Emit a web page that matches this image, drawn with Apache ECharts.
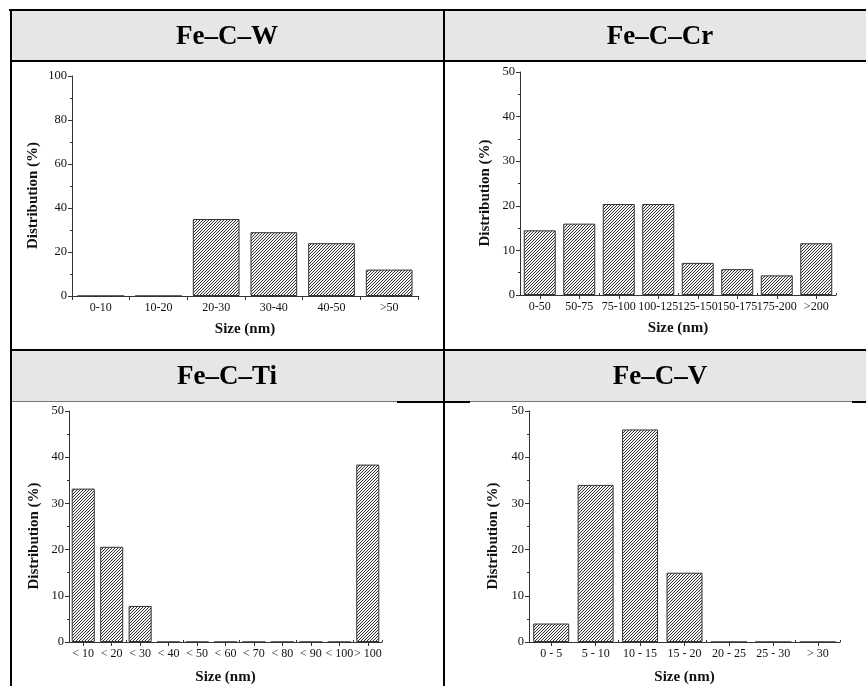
<!DOCTYPE html>
<html>
<head>
<meta charset="utf-8">
<script src="https://cdn.jsdelivr.net/npm/echarts@6/dist/echarts.min.js"></script>
<style>
html,body{margin:0;padding:0;background:#fff;}
#chart{width:866px;height:686px;}
</style>
</head>
<body>
<div id="chart"></div>
<script>
// ---- data ----
const titles = ['Fe–C–W', 'Fe–C–Cr', 'Fe–C–Ti', 'Fe–C–V'];
const catW = ['0-10', '10-20', '20-30', '30-40', '40-50', '>50'];
const valW = [0, 0, 35, 29, 24, 12];
const catCr = ['0-50', '50-75', '75-100', '100-125', '125-150', '150-175', '175-200', '>200'];
const valCr = [14.5, 16, 20.4, 20.4, 7.2, 5.8, 4.4, 11.6];
const catTi = ['< 10', '< 20', '< 30', '< 40', '< 50', '< 60', '< 70', '< 80', '< 90', '< 100', '> 100'];
const valTi = [33.2, 20.6, 7.8, 0, 0, 0, 0, 0, 0, 0, 38.4];
const catV = ['0 - 5', '5 - 10', '10 - 15', '15 - 20', '20 - 25', '25 - 30', '> 30'];
const valV = [4, 34, 46, 15, 0, 0, 0];
const yMax = [100, 50, 50, 50];
const yStep = [20, 10, 10, 10];
const xName = 'Size (nm)';
const yName = 'Distribution (%)';

// ---- hatch pattern ----
function hatch() {
  const n = 3;
  const c = document.createElement('canvas');
  c.width = n; c.height = n;
  const ctx = c.getContext('2d');
  ctx.fillStyle = '#f4f4f4';
  ctx.fillRect(0, 0, n, n);
  ctx.fillStyle = '#363636';
  for (let x = 0; x < n; x++) for (let y = 0; y < n; y++) {
    if ((x + y) % n === n - 1) ctx.fillRect(x, y, 1, 1);
  }
  return c;
}
const pattern = { image: hatch(), repeat: 'repeat' };

const FONT = "'Liberation Serif', 'Times New Roman', serif";
const chart = echarts.init(document.getElementById('chart'), null, { renderer: 'canvas' });

const grids = [
  { left: 72, top: 76, width: 346, height: 220 },
  { left: 520, top: 72, width: 316, height: 223 },
  { left: 69, top: 411, width: 313, height: 232 },
  { left: 529, top: 411, width: 311, height: 232 }
];
const cats = [catW, catCr, catTi, catV];
const vals = [valW, valCr, valTi, valV];
const centerTicks = [false, true, true, true];
const yGap = [31, 27, 27, 28];

const axisLine = { show: true, lineStyle: { color: '#333', width: 1 } };
const xAxes = [], yAxes = [], series = [];
for (let i = 0; i < 4; i++) {
  xAxes.push({
    type: 'category', gridIndex: i, data: cats[i],
    axisLine: axisLine,
    axisTick: { show: true, alignWithLabel: centerTicks[i], length: 4, lineStyle: { color: '#333' } },
    axisLabel: { interval: 0, margin: 6, fontFamily: FONT, fontSize: 12, color: '#111' },
    name: xName, nameLocation: 'middle', nameGap: i < 2 ? 26 : 28,
    nameTextStyle: { fontFamily: FONT, fontWeight: 'bold', fontSize: 15, color: '#111', verticalAlign: 'top' },
    splitLine: { show: false }
  });
  yAxes.push({
    type: 'value', gridIndex: i, min: 0, max: yMax[i], interval: yStep[i],
    axisLine: axisLine,
    axisTick: { show: true, length: 4, lineStyle: { color: '#333' } },
    minorTick: { show: true, splitNumber: 2, length: 2, lineStyle: { color: '#333' } },
    axisLabel: { margin: 5, fontFamily: FONT, fontSize: 12.5, color: '#111' },
    splitLine: { show: false },
    name: yName, nameLocation: 'middle', nameGap: yGap[i], nameRotate: 90,
    nameTextStyle: { fontFamily: FONT, fontWeight: 'bold', fontSize: 15, color: '#111', padding: [0, 19, 0, 0] }
  });
  series.push({
    type: 'bar', xAxisIndex: i, yAxisIndex: i, data: vals[i],
    barCategoryGap: '19%',
    itemStyle: { color: pattern, borderColor: '#333', borderWidth: 1 },
    silent: true
  });
}
// secondary axes showing small boundary ticks for the center-ticked panels
for (let i = 1; i < 4; i++) {
  xAxes.push({
    type: 'category', gridIndex: i, data: cats[i], position: 'bottom',
    axisLine: { show: false },
    axisTick: { show: true, inside: true, length: 2, lineStyle: { color: '#333' } },
    axisLabel: { show: false }, splitLine: { show: false }
  });
}

const graphics = [];
function box(x, y, w, h, fill) {
  graphics.push({ type: 'rect', shape: { x: x, y: y, width: w, height: h }, style: { fill: fill }, silent: true });
}
// header backgrounds
box(10, 10, 856, 51, '#e6e6e6');
box(10, 351, 856, 50, '#e6e6e6');
// borders
box(9, 9, 857, 2, '#000');     // top
box(10, 9, 2, 677, '#000');    // left
box(443, 9, 2, 677, '#000');   // middle
box(10, 60, 856, 2, '#000');   // header 1 bottom
box(10, 349, 856, 2, '#000');  // row divider
box(397, 401, 73, 2, '#000');  // header 2 bottom (thick parts)
box(852, 401, 14, 2, '#000');
box(12, 401, 385, 1, '#777');  // thin parts
box(470, 401, 382, 1, '#777');
// header titles
const tPos = [[227, 37], [660, 37], [227, 377], [660, 377]];
for (let i = 0; i < 4; i++) {
  graphics.push({
    type: 'text', x: tPos[i][0], y: tPos[i][1], silent: true,
    style: { text: titles[i], fontFamily: FONT, fontWeight: 'bold', fontSize: 27, fill: '#000', align: 'center', verticalAlign: 'middle' }
  });
}

chart.setOption({
  animation: false,
  backgroundColor: '#fff',
  grid: grids,
  xAxis: xAxes,
  yAxis: yAxes,
  series: series,
  graphic: graphics
});
</script>
</body>
</html>
